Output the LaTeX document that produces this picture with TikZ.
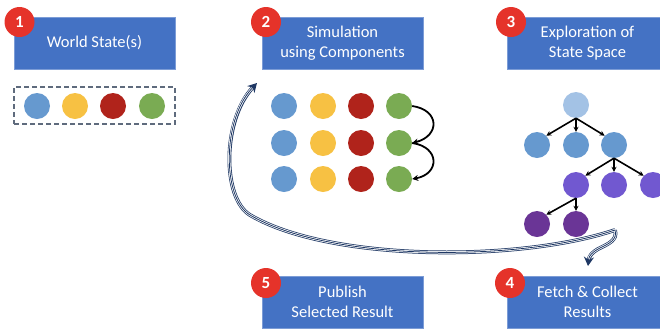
\documentclass[tikz,border=0pt]{standalone}
\usepackage{fontspec}
\setmainfont{Carlito}
\usetikzlibrary{arrows.meta}
\definecolor{boxblue}{HTML}{4472C4}
\definecolor{badgered}{HTML}{E5332A}
\definecolor{cblue}{HTML}{6699CF}
\definecolor{cyellow}{HTML}{F7C143}
\definecolor{cred}{HTML}{B0231B}
\definecolor{cgreen}{HTML}{7AAB53}
\definecolor{tlight}{HTML}{A3C2E5}
\definecolor{tmid}{HTML}{6699CF}
\definecolor{tpurple}{HTML}{7158D0}
\definecolor{tdark}{HTML}{6A3596}
\definecolor{navy}{HTML}{1F3864}
\definecolor{dashgray}{HTML}{5F6B7D}
\tikzset{
  stagebox/.style={rectangle, fill=boxblue, draw=boxblue!70!white, line width=0.6pt,
    minimum width=161pt, minimum height=52pt, inner sep=0pt, text=white, align=center,
    font=\fontsize{16.5}{20}\selectfont},
  badge/.style={circle, fill=badgered, minimum size=30pt, inner sep=0pt, text=white,
    font=\fontsize{17}{17}\selectfont\bfseries},
  dot/.style={circle, minimum size=26pt, inner sep=0pt},
  stepflow/.style={-{Stealth[length=6pt,width=6pt]}, line width=1.8pt, black},
  treearrow/.style={-{Stealth[length=5pt,width=5pt]}, line width=1.6pt, black},
  bigouter/.style={navy, line width=3.8pt, -{Stealth[length=9pt,width=10pt]}},
  bigmid/.style={white, line width=2.3pt, shorten >=7pt},
  biginner/.style={navy, line width=0.8pt, shorten >=7pt},
}
\begin{document}
\begin{tikzpicture}[x=1pt, y=-1pt]
\useasboundingbox (0,0) rectangle (660,330);
\clip (0,0) rectangle (660,330);

% stage boxes
\node[stagebox] (s1) at (94.5,43) {World State(s)};
\node[stagebox] (s2) at (342.5,43) {Simulation\\using Components};
\node[stagebox] (s3) at (587.5,43) {Exploration of\\State Space};
\node[stagebox] (s4) at (587.5,302) {Fetch \& Collect\\Results};
\node[stagebox] (s5) at (342.5,302) {Publish\\Selected Result};

% numbered badges
\node[badge] (b1) at (19.5,22) {1};
\node[badge] (b2) at (266,22) {2};
\node[badge] (b3) at (511,22) {3};
\node[badge] (b4) at (510,283) {4};
\node[badge] (b5) at (266,283) {5};

% world state
\node[draw=dashgray, dashed, dash pattern=on 5pt off 3pt, line width=1.2pt,
  minimum width=161pt, minimum height=37pt, inner sep=0pt] (ws) at (94.5,105.5) {};
\node[dot, fill=cblue]   (w1) at (37,106) {};
\node[dot, fill=cyellow] (w2) at (75,106) {};
\node[dot, fill=cred]    (w3) at (113,106) {};
\node[dot, fill=cgreen]  (w4) at (152,106) {};

% simulation grid
\foreach \r/\y in {1/106,2/143,3/179}{
  \node[dot, fill=cblue]   (g\r a) at (284,\y) {};
  \node[dot, fill=cyellow] (g\r b) at (323,\y) {};
  \node[dot, fill=cred]    (g\r c) at (361,\y) {};
  \node[dot, fill=cgreen]  (g\r d) at (399,\y) {};
}
\draw[stepflow] (g1d.east) .. controls (440,110) and (440,136) .. (g2d.east);
\draw[stepflow] (g2d.east) .. controls (440,147) and (440,174) .. (g3d.east);

% state-space tree
\node[dot, fill=tlight]  (t0) at (576,105) {};
\node[dot, fill=tmid]    (t1) at (537,145) {};
\node[dot, fill=tmid]    (t2) at (576,145) {};
\node[dot, fill=tmid]    (t3) at (614,145) {};
\node[dot, fill=tpurple] (t4) at (576,185) {};
\node[dot, fill=tpurple] (t5) at (614,185) {};
\node[dot, fill=tpurple] (t6) at (653,185) {};
\node[dot, fill=tdark]   (t7) at (537,224) {};
\node[dot, fill=tdark]   (t8) at (576,224) {};
\draw[treearrow] (t0.south) -- (t1.north east);
\draw[treearrow] (t0.south) -- (t2.north);
\draw[treearrow] (t0.south) -- (t3.north west);
\draw[treearrow] (t3.south) -- (t4.north east);
\draw[treearrow] (t3.south) -- (t5.north);
\draw[treearrow] (t3.south) -- (t6.north west);
\draw[treearrow] (t4.south) -- (t7.north east);
\draw[treearrow] (t4.south) -- (t8.north);

% flow arrows between stages
\coordinate (jn) at (615,230);
\coordinate (backtip) at (257,83);
\coordinate (fetchtip) at (588,266);
\foreach \sty in {bigouter,bigmid,biginner}{
  \draw[\sty] (jn) .. controls (520,262) and (330,262) .. (250,215)
                   .. controls (222,198) and (222,120) .. (backtip);
  \draw[\sty] (jn) .. controls (618,240) and (608,244) .. (600,248)
                   .. controls (592,252) and (589,256) .. (fetchtip);
}
\end{tikzpicture}
\end{document}
